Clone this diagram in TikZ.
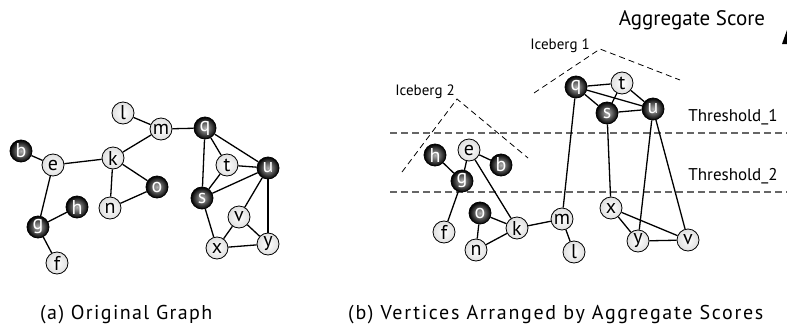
\documentclass[tikz,border=0pt]{standalone}
\usepackage{fontspec}
\setmainfont{PT Sans}
\newfontfamily\capafont[LetterSpace=7]{PT Sans}
\newfontfamily\capbfont[LetterSpace=8.5]{PT Sans}
\usetikzlibrary{arrows.meta}
\begin{document}
\begin{tikzpicture}[x=1pt,y=-1pt,
  vtx/.style={circle,draw=black,line width=0.8pt,minimum size=22pt,inner sep=0pt,font=\fontsize{20}{20}\selectfont},
  dk/.style={vtx,inner color=gray!60,outer color=black,text=white},
  lt/.style={vtx,inner color=white,outer color=gray!25,text=black},
  edge/.style={line width=1.3pt,black},
  ice/.style={dash pattern=on 6pt off 4pt,line width=0.8pt,black},
  thr/.style={dash pattern=on 7pt off 4pt,line width=1.2pt,gray!80!black},
  lbl/.style={font=\fontsize{17}{17}\selectfont},
  icelbl/.style={font=\fontsize{15}{15}\selectfont},
  captxt/.style={font=\fontsize{20}{20}\selectfont,inner sep=0pt}]
\useasboundingbox (0,0) rectangle (787,327);
% ---------- left graph ----------
\node[lt] (Ll) at (123,113) {l};
\node[lt] (Lm) at (161,129) {m};
\node[dk] (Lq) at (205,128) {q};
\node[dk] (Lb) at (21,151) {b};
\node[lt] (Le) at (53,165) {e};
\node[lt] (Lk) at (113,158) {k};
\node[lt] (Lt) at (227,165) {t};
\node[dk] (Lu) at (268,168) {u};
\node[dk] (Lo) at (157,187) {o};
\node[dk] (Ls) at (202,198) {s};
\node[lt] (Ln) at (110,208) {n};
\node[dk] (Lh) at (77,207) {h};
\node[lt] (Lv) at (239,217) {v};
\node[dk] (Lg) at (38,227) {g};
\node[lt] (Lx) at (217,248) {x};
\node[lt] (Ly) at (268,244) {y};
\node[lt] (Lf) at (57,263) {f};
\foreach \a/\b in {Ll/Lm,Lm/Lq,Lm/Lk,Lb/Le,Le/Lk,Le/Lg,Lg/Lh,Lg/Lf,Lk/Ln,Lk/Lo,Ln/Lo,
  Lq/Lt,Lq/Lu,Lq/Ls,Lt/Lu,Lt/Ls,Ls/Lu,Lu/Lv,Lu/Ly,Ls/Lx,Lv/Lx,Lv/Ly,Lx/Ly}
  \draw[edge] (\a) -- (\b);
% ---------- right graph ----------
\draw[thr] (390,133) -- (787,133);
\draw[thr] (390,192) -- (787,192);
\node[lbl] (th1) at (733,117) {Threshold\_1};
\node[lbl] (th2) at (733,176) {Threshold\_2};
\node[font=\fontsize{21}{21}\selectfont] (agg) at (692,20) {Aggregate Score};
\fill (782,44) -- (787,30) -- (792,44) -- cycle;
\node[icelbl] (ice1) at (560,46) {Iceberg 1};
\node[icelbl] (ice2) at (425,92) {Iceberg 2};
\coordinate (i1a) at (534,93);
\coordinate (i1b) at (600,49);
\coordinate (i1c) at (680,80);
\draw[ice] (i1a) -- (i1b) -- (i1c);
\coordinate (i2a) at (402,172);
\coordinate (i2b) at (457,99);
\coordinate (i2c) at (528,158);
\draw[ice] (i2a) -- (i2b) -- (i2c);
\node[dk] (Rq) at (576,87) {q};
\node[lt] (Rt) at (622,83) {t};
\node[dk] (Rs) at (607,113) {s};
\node[dk] (Ru) at (653,109) {u};
\node[dk] (Rh) at (435,155) {h};
\node[lt] (Re) at (469,150) {e};
\node[dk] (Rb) at (501,165) {b};
\node[dk] (Rg) at (462,181) {g};
\node[dk] (Ro) at (480,213) {o};
\node[lt] (Rf) at (444,232) {f};
\node[lt] (Rk) at (517,228) {k};
\node[lt] (Rm) at (562,219) {m};
\node[lt] (Rn) at (476,250) {n};
\node[lt] (Rl) at (574,252) {l};
\node[lt] (Rx) at (611,208) {x};
\node[lt] (Ry) at (638,241) {y};
\node[lt] (Rv) at (688,240) {v};
\foreach \a/\b in {Rq/Rt,Rq/Rs,Rq/Ru,Rt/Rs,Rt/Ru,Rs/Ru,Rq/Rm,Rs/Rx,Ru/Ry,Ru/Rv,
  Rh/Rg,Rg/Re,Re/Rb,Re/Rk,Rg/Rf,Ro/Rk,Ro/Rn,Rn/Rk,Rk/Rm,Rm/Rl,Rx/Ry,Rx/Rv,Ry/Rv}
  \draw[edge] (\a) -- (\b);
% ---------- captions ----------
\node[captxt,anchor=west] (capa) at (40,315) {\capafont (a) Original Graph};
\node[captxt,anchor=west] (capb) at (348,315) {\capbfont (b) Vertices Arranged by Aggregate Scores};
\end{tikzpicture}
\end{document}
